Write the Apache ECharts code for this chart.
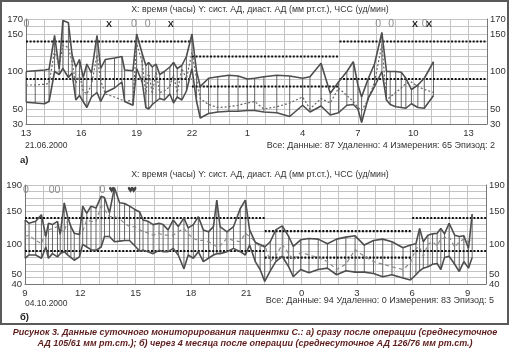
<!DOCTYPE html>
<html><head><meta charset="utf-8">
<script src="https://cdn.jsdelivr.net/npm/echarts@6/dist/echarts.min.js"></script>
<style>html,body{margin:0;padding:0;background:#fff}#c{width:510px;height:351px}</style>
</head><body><div id="c"></div>
<script>
// ---------- Panel a) 21.06.2000 ----------
const aTime = [13.0,13.5,14.0,14.25,14.55,14.8,15.0,15.3,15.5,15.7,15.9,16.1,16.3,16.55,16.85,17.05,17.3,17.8,18.2,18.35,18.8,19.0,19.3,19.5,19.65,19.85,20.05,20.25,20.5,20.8,21.0,21.2,21.45,21.7,22.0,22.25,22.45,22.9,23.4,24.0,24.5,25.0,25.4,25.9,26.6,27.3,28.0,28.4,29.0,29.5,29.95,30.4,30.75,31.0,31.2,31.55,31.9,32.3,32.55,32.75,33.05,33.35,33.6,33.9,34.25,34.6,35.1];
const aSys = [100,101,102,103,148,103,168,165,122,106,116,92,110,98,148,104,116,118,120,102,101,150,124,108,112,106,110,96,100,106,112,104,108,120,150,100,80,91,93,95,94,90,91,93,95,94,91,93,111,71,86,100,113,82,66,90,110,152,100,100,100,99,91,76,82,91,113];
const aDia = [59,58,57,60,100,96,104,92,98,62,68,60,52,66,72,60,72,78,86,60,55,104,86,52,50,56,60,64,62,70,58,66,62,74,104,60,38,44,46,47,47,48,48,46,45,40,55,46,54,42,45,55,56,50,32,64,80,100,62,56,53,52,51,57,52,51,68];
const aHr  = [82,82,83,84,128,108,135,132,112,84,96,74,70,82,122,88,70,66,62,60,62,138,112,70,100,70,100,72,74,80,96,72,104,90,126,90,64,56,52,53,55,58,60,50,53,58,66,50,64,58,78,68,60,52,48,62,86,136,62,66,72,78,84,86,80,76,72];
const aXTicks = [13,16,19,22,25,28,31,34,37];
const aYTicks = [30,50,100,150,170];
const aLimitBreaks = [13,22,30,38];
const aSysLimits = [140,120,140];
const aDiaLimits = [90,80,90];
const aMarkTime = [13.02,17.5,18.85,19.6,20.85,32.1,32.8,34.1,34.62,34.85];
const aMarkText = ['0','X','0','0','X','0','0','X','0','X'];

// ---------- Panel б) 04.10.2000 ----------
const bTime = [9.0,9.22,9.58,9.89,10.13,10.27,10.49,10.76,10.91,11.13,11.31,11.49,11.67,11.95,12.13,12.35,12.58,12.85,13.13,13.31,13.58,13.85,14.13,14.4,14.67,14.95,15.22,15.4,15.67,15.95,16.27,16.49,16.76,17.04,17.31,17.62,17.85,18.13,18.4,18.67,18.95,19.22,19.4,19.58,19.95,20.31,20.67,20.95,21.18,21.49,21.75,22.0,22.3,22.6,22.95,23.3,23.55,23.95,24.4,24.9,25.4,25.9,26.4,26.9,27.4,27.9,28.4,28.9,29.5,29.9,30.2,30.4,30.6,30.85,31.1,31.35,31.55,31.75,32.0,32.3,32.55,32.8,33.05,33.25];
const bSys = [137,132,135,145,112,132,130,135,115,163,142,127,117,115,158,147,158,155,173,171,148,186,163,162,158,153,149,137,135,130,132,130,122,137,127,140,125,130,142,122,119,127,167,127,119,127,154,167,122,103,100,96,104,122,128,112,97,107,109,108,101,108,111,113,99,106,108,104,95,99,101,124,104,114,116,117,124,116,132,114,112,113,94,146];
const bDia = [79,84,84,79,96,79,86,81,86,89,84,80,76,81,100,96,92,91,96,112,112,104,105,106,106,98,90,91,89,86,91,89,89,94,84,63,84,79,89,74,79,84,86,86,89,94,89,84,99,74,62,44,60,74,82,66,51,62,57,62,64,54,60,58,58,56,51,54,49,46,54,60,64,66,70,71,62,80,82,70,59,74,64,80];
const bHr  = [112,114,106,101,119,122,124,127,122,119,137,127,117,115,120,137,135,135,158,153,142,142,139,132,127,127,122,120,117,114,117,114,114,114,119,124,116,109,106,106,104,100,96,98,109,106,104,117,112,104,96,99,74,82,100,86,76,88,84,80,74,62,70,92,82,74,70,66,62,72,94,96,82,100,104,98,108,110,112,96,104,108,104,108];
const bXTicks = [9,12,15,18,21,24,27,30,33];
const bYTicks = [40,50,100,150,190];
const bLimitBreaks = [9,22,30,34];
const bSysLimits = [140,120,140];
const bDiaLimits = [90,80,90];
const bMarkTime = [9.05,10.6,13.2,13.7,14.72,14.9];
const bMarkText = ['0','00','0','♥','♥','♥'];

const FONT = "'Liberation Sans', Arial, sans-serif";
function zip(...arrs){ return arrs[0].map((_,i)=>arrs.map(a=>a[i])); }

const panels = [
  {time:aTime, sys:aSys, dia:aDia, hr:aHr, xmin:13, xmax:38, xt:aXTicks, ymin:30, ymax:170, yt:aYTicks,
   br:aLimitBreaks, sl:aSysLimits, dl:aDiaLimits, mt:aMarkTime, mx:aMarkText, my:163, liftFirst:false,
   grid:{left:26, width:461, top:19, height:105}, hrStyle:{color:'#666', width:1.2, type:[2,2]}},
  {time:bTime, sys:bSys, dia:bDia, hr:bHr, xmin:9, xmax:34, xt:bXTicks, ymin:40, ymax:190, yt:bYTicks,
   br:bLimitBreaks, sl:bSysLimits, dl:bDiaLimits, mt:bMarkTime, mx:bMarkText, my:182, liftFirst:true,
   grid:{left:25, width:461, top:185, height:99}, hrStyle:{color:'#8a8a8a', width:1.2, type:[4,3]}}
];

const grid=[], xAxis=[], yAxis=[], series=[];
panels.forEach((p, idx)=>{
  grid.push(p.grid);
  xAxis.push({type:'value', gridIndex:idx, min:p.xmin, max:p.xmax, interval:1,
    axisLine:{show:true, lineStyle:{color:'#777', width:1}}, axisTick:{show:false},
    splitLine:{show:true, lineStyle:{color:'#c4c4c4', width:1}},
    axisLabel:{fontSize:9.5, color:'#333', fontFamily:FONT, margin:4, hideOverlap:false, showMinLabel:true,
      formatter:v=> p.xt.includes(v) ? String(v%24) : ''}});
  const rich = {u:{fontSize:9.5, color:'#333', fontFamily:FONT, padding:[0,0,7,0]}};
  const mainFmt = v => {
    if (v === p.ymin || !p.yt.includes(v)) return '';
    if (p.liftFirst && v === p.yt[1]) return '{u|' + v + '}';
    return String(v);
  };
  const minFmt = v => (v === p.ymin ? String(v) : '');
  const base = {type:'value', gridIndex:idx, min:p.ymin, max:p.ymax, interval:10, axisTick:{show:false}};
  const lab = (fmt) => ({fontSize:9.5, color:'#333', fontFamily:FONT, margin:3, hideOverlap:false,
      showMinLabel:true, showMaxLabel:true, formatter:fmt, rich});
  // main left (with grid), main right, min-only left, min-only right
  yAxis.push(Object.assign({}, base, {position:'left', axisLine:{show:true, lineStyle:{color:'#777'}},
    splitLine:{show:true, lineStyle:{color:'#c4c4c4', width:1}}, axisLabel:lab(mainFmt)}));
  yAxis.push(Object.assign({}, base, {position:'right', axisLine:{show:true, lineStyle:{color:'#777'}},
    splitLine:{show:false}, axisLabel:lab(mainFmt)}));
  yAxis.push(Object.assign({}, base, {position:'left', axisLine:{show:false}, splitLine:{show:false}, axisLabel:lab(minFmt)}));
  yAxis.push(Object.assign({}, base, {position:'right', axisLine:{show:false}, splitLine:{show:false}, axisLabel:lab(minFmt)}));
  const yi = idx*4;
  // threshold lines
  for (let i=0;i<p.br.length-1;i++){
    [p.sl[i], p.dl[i]].forEach(v=>{
      series.push({type:'line', xAxisIndex:idx, yAxisIndex:yi, data:[[p.br[i],v],[p.br[i+1],v]],
        symbol:'none', silent:true, z:3, lineStyle:{color:'#111', width:2.2, type:[2,1.6], cap:'butt'}});
    });
  }
  // measurement bars
  series.push({type:'custom', xAxisIndex:idx, yAxisIndex:yi, data:zip(p.time,p.sys,p.dia), z:2,
    encode:{x:0, y:[1,2]},
    renderItem:(params, api)=>{
      const p1 = api.coord([api.value(0), api.value(1)]);
      const p2 = api.coord([api.value(0), api.value(2)]);
      return {type:'line', shape:{x1:p1[0], y1:p1[1], x2:p2[0], y2:p2[1]}, style:{stroke:'#555', lineWidth:0.9}};
    }});
  // heart rate
  series.push({type:'line', xAxisIndex:idx, yAxisIndex:yi, data:zip(p.time,p.hr), symbol:'none', z:4,
    lineStyle:p.hrStyle});
  // systolic and diastolic
  series.push({type:'line', xAxisIndex:idx, yAxisIndex:yi, data:zip(p.time,p.sys), symbol:'none', z:5,
    lineStyle:{color:'#4e4e4e', width:1.6}});
  series.push({type:'line', xAxisIndex:idx, yAxisIndex:yi, data:zip(p.time,p.dia), symbol:'none', z:5,
    lineStyle:{color:'#4e4e4e', width:1.6}});
  // event markers
  series.push({type:'custom', xAxisIndex:idx, yAxisIndex:yi, z:6,
    data:p.mt.map((t,i)=>[t, p.my, i]), encode:{x:0, y:1},
    renderItem:(params, api)=>{
      const c = api.coord([api.value(0), api.value(1)]);
      const txt = p.mx[api.value(2)];
      const isX = txt==='X', isH = txt==='♥';
      return {type:'text', x:c[0], y:c[1], style:{text:txt, align:'center', verticalAlign:'middle',
        fill: isX ? '#222' : (isH ? '#444' : '#8c8c8c'),
        font: (isX ? 'bold 9px ' : (isH ? 'bold 11px ' : '10.5px ')) + FONT}};
    }});
});

function txt(x, y, text, opts){
  return Object.assign({type:'text', x, y, silent:true, style:Object.assign({text, fill:'#333', font:'9px '+FONT, verticalAlign:'middle'}, opts||{})});
}
const TITLE = 'X: время (часы) Y: сист. АД, диаст. АД (мм рт.ст.), ЧСС (уд/мин)';
const graphic = [
  {type:'rect', shape:{x:1, y:1, width:507, height:323}, style:{fill:null, stroke:'#5a5a5a', lineWidth:2}, silent:true},
  txt(260, 10, TITLE, {align:'center', font:'8.8px '+FONT}),
  txt(25, 146, '21.06.2000', {font:'8.5px '+FONT}),
  txt(20, 160, 'а)', {font:'bold 9.5px '+FONT, fill:'#222'}),
  txt(495, 146, 'Все: Данные: 87 Удаленно: 4 Измерения: 65 Эпизод: 2', {align:'right'}),
  txt(260, 175, TITLE, {align:'center', font:'8.8px '+FONT}),
  txt(25, 304, '04.10.2000', {font:'8.5px '+FONT}),
  txt(20, 317, 'б)', {font:'bold 9.5px '+FONT, fill:'#222'}),
  txt(494, 301, 'Все: Данные: 94 Удаленно: 0 Измерения: 83 Эпизод: 5', {align:'right'}),
  txt(255, 333, 'Рисунок 3. Данные суточного мониторирования пациентки С.: а) сразу после операции (среднесуточное', {align:'center', fill:'#5e1d1d', font:'italic bold 9px '+FONT}),
  txt(255, 344, 'АД 105/61 мм рт.ст.); б) через 4 месяца после операции (среднесуточное АД 126/76 мм рт.ст.)', {align:'center', fill:'#5e1d1d', font:'italic bold 9px '+FONT})
];

const chart = echarts.init(document.getElementById('c'), null, {renderer:'canvas'});
chart.setOption({animation:false, backgroundColor:'#fff', grid, xAxis, yAxis, series, graphic});
</script></body></html>
